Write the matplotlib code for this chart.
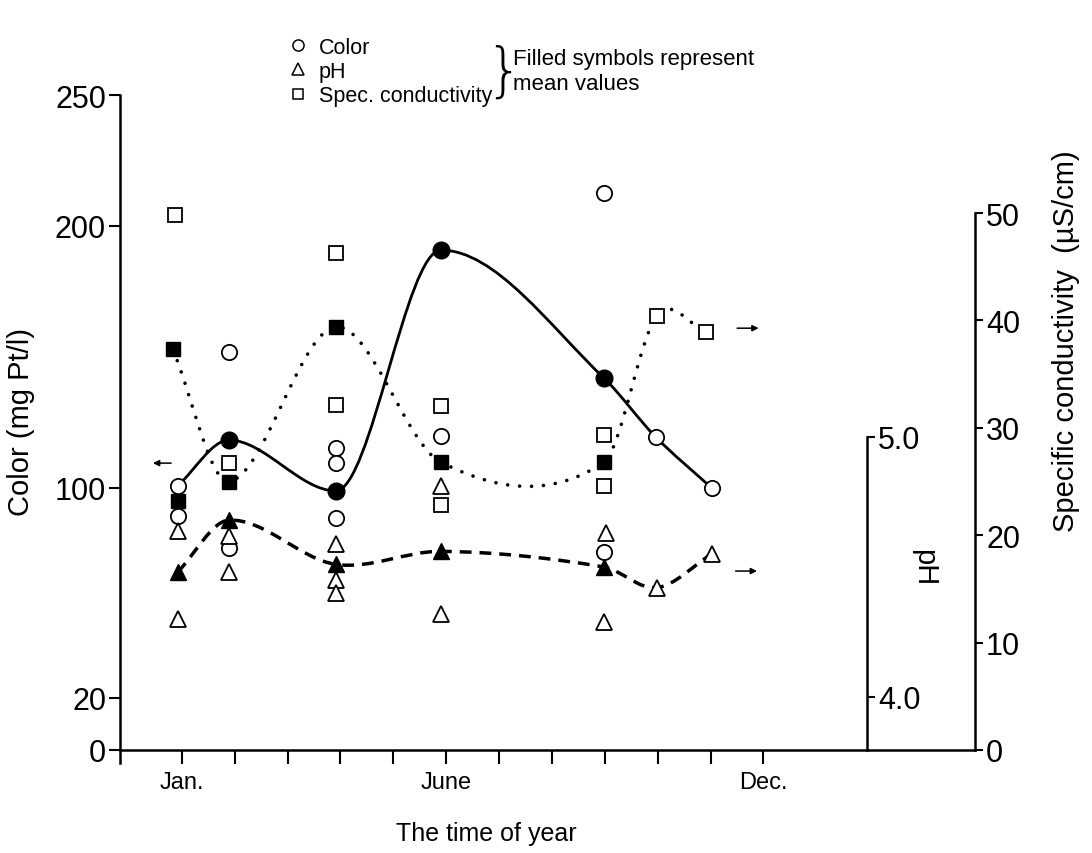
import matplotlib
matplotlib.use("Agg")
import matplotlib.pyplot as plt
from matplotlib.path import Path
from matplotlib.patches import PathPatch
from matplotlib.lines import Line2D

plt.rcParams.update({
    "font.family": ["Liberation Sans", "DejaVu Sans"],
    "font.size": 17,
    "axes.linewidth": 1.8,
})

# ---- data (month position on x, values in each axis' own units) ----
# Color (mg Pt/l), left axis
color_months = [0.92, 0.92, 1.89, 1.89, 3.91, 3.91, 3.91, 5.90, 8.98, 8.98, 9.96, 11.02]
color_values = [100.8, 89.3, 151.9, 77.1, 115.3, 109.5, 88.5, 119.8, 212.6, 75.6, 119.5, 100.0]
color_mean_months = [1.89, 3.91, 5.90, 8.98]
color_mean_values = [118.3, 98.9, 190.8, 142.0]
color_curve_months = [0.92, 1.89, 3.91, 5.90, 8.98, 9.96, 11.02]
color_curve_values = [100.8, 118.3, 98.9, 190.8, 142.0, 119.5, 100.0]

# Specific conductivity (uS/cm), right axis
cond_months = [0.87, 1.89, 3.91, 3.91, 5.90, 5.90, 8.98, 8.98, 9.98, 10.92]
cond_values = [49.8, 26.7, 46.3, 32.1, 32.0, 22.8, 29.3, 24.6, 40.4, 38.9]
cond_mean_months = [0.83, 0.92, 1.89, 3.91, 5.90, 8.98]
cond_mean_values = [37.3, 23.2, 25.0, 39.4, 26.8, 26.8]
cond_curve_months = [0.83, 1.89, 3.91, 5.90, 8.98, 9.98, 10.92]
cond_curve_values = [37.3, 25.0, 39.4, 26.8, 26.8, 40.4, 38.9]

# pH, inner right axis
ph_months = [0.92, 0.92, 1.89, 1.89, 3.91, 3.91, 3.91, 5.90, 5.90, 9.02, 8.98, 9.98, 11.02]
ph_values = [4.64, 4.30, 4.62, 4.48, 4.59, 4.45, 4.40, 4.81, 4.32, 4.63, 4.29, 4.42, 4.55]
ph_mean_months = [0.92, 1.89, 3.91, 5.90, 8.98]
ph_mean_values = [4.48, 4.68, 4.51, 4.56, 4.50]
ph_curve_months = [0.92, 1.89, 3.91, 5.90, 8.98, 9.98, 11.02]
ph_curve_values = [4.48, 4.68, 4.51, 4.56, 4.50, 4.42, 4.55]

month_ticks = list(range(1, 13))
month_labels = ["Jan.", "", "", "", "", "June", "", "", "", "", "", "Dec."]
color_ticks = [0, 20, 100, 200, 250]
cond_ticks = [0, 10, 20, 30, 40, 50]
ph_ticks = [4.0, 5.0]


def curve_slopes(xs, ys, monotone=False):
    n = len(xs)
    d = [(ys[i + 1] - ys[i]) / (xs[i + 1] - xs[i]) for i in range(n - 1)]
    m = [d[0]]
    for i in range(1, n - 1):
        if monotone:
            if d[i - 1] * d[i] <= 0:
                m.append(0.0)
            else:
                h0, h1 = xs[i] - xs[i - 1], xs[i + 1] - xs[i]
                w1, w2 = 2 * h1 + h0, h1 + 2 * h0
                m.append((w1 + w2) / (w1 / d[i - 1] + w2 / d[i]))
        else:
            m.append((ys[i + 1] - ys[i - 1]) / (xs[i + 1] - xs[i - 1]))
    m.append(d[-1])
    return m


def smooth_path(xs, ys, monotone=False):
    """Hand-drawn-like smooth curve through the mean points, as a Bezier path."""
    m = curve_slopes(xs, ys, monotone)
    verts = [(xs[0], ys[0])]
    codes = [Path.MOVETO]
    for i in range(len(xs) - 1):
        h = xs[i + 1] - xs[i]
        verts += [(xs[i] + h / 3, ys[i] + m[i] * h / 3),
                  (xs[i + 1] - h / 3, ys[i + 1] - m[i + 1] * h / 3),
                  (xs[i + 1], ys[i + 1])]
        codes += [Path.CURVE4] * 3
    return Path(verts, codes)


fig = plt.figure(figsize=(10.92, 8.54), dpi=100)
ax = fig.add_axes([120 / 1092, 1 - 751 / 854, 855 / 1092, 655 / 854])
ax.set_xlim(-0.17, 16.0)
ax.set_ylim(0, 250)
ax_c = ax.twinx()
ax_c.set_ylim(0, 61.0)
ax_p = ax.twinx()
ax_p.set_ylim(3.796, 3.796 + 655 / 260)

for a in (ax, ax_c, ax_p):
    a.patch.set_visible(False)
    a.spines["top"].set_visible(False)
ax.spines["right"].set_visible(False)
ax.spines["left"].set_bounds(-5, 250)
for a in (ax_c, ax_p):
    a.spines["left"].set_visible(False)
    a.spines["bottom"].set_visible(False)
ax_c.spines["right"].set_bounds(0, 50)
ax_p.spines["right"].set_position(("axes", (867 - 120) / 855))
ax_p.spines["right"].set_bounds(3.796, 5.0)

ax.set_xticks(month_ticks)
ax.set_xticklabels(month_labels)
ax.tick_params(axis="x", direction="out", length=10, width=1.5, pad=5, labelsize=17)
ax.set_yticks(color_ticks)
ax.tick_params(axis="y", direction="out", length=8, width=1.5, pad=2, labelsize=22)
ax_c.set_yticks(cond_ticks)
ax_c.tick_params(axis="y", direction="out", length=6, width=1.5, pad=2, labelsize=22)
ax_p.set_yticks(ph_ticks)
ax_p.set_yticklabels([f"{v:.1f}" for v in ph_ticks])
ax_p.tick_params(axis="y", direction="out", length=6, width=1.5, pad=2, labelsize=22)

ax.set_ylabel("Color (mg Pt/l)", fontsize=21)
ax.yaxis.set_label_coords(-0.099, 0.502)
ax_c.set_ylabel("Specific conductivity  (µS/cm)", fontsize=21, rotation=90)
ax_c.yaxis.set_label_coords(1.090, 0.625)
ax_p.set_ylabel("pH", fontsize=21, rotation=270, va="center")
ax_p.yaxis.set_label_coords(0.940, 0.28)
ax.set_xlabel("The time of year", fontsize=18)
ax.xaxis.set_label_coords(0.429, -0.108)

# mean curves
ax.add_patch(PathPatch(smooth_path(color_curve_months, color_curve_values, monotone=True),
                       fill=False, lw=2.0, color="black", zorder=2))
ax_c.add_patch(PathPatch(smooth_path(cond_curve_months, cond_curve_values),
                         fill=False, lw=2.6, color="black", linestyle=(0, (0.01, 3.3)),
                         capstyle="round", zorder=2))
ax_p.add_patch(PathPatch(smooth_path(ph_curve_months, ph_curve_values),
                         fill=False, lw=2.5, color="black", linestyle=(0, (3.4, 2.3)),
                         capstyle="butt", zorder=2))

# individual observations (open) and means (filled)
ax.plot(color_months, color_values, ls="none", marker="o", ms=11, mfc="white",
        mec="black", mew=1.3, zorder=3)
ax.plot(color_mean_months, color_mean_values, ls="none", marker="o", ms=12,
        mfc="black", mec="black", zorder=4)
ax_c.plot(cond_months, cond_values, ls="none", marker="s", ms=10, mfc="white",
          mec="black", mew=1.3, zorder=3)
ax_c.plot(cond_mean_months, cond_mean_values, ls="none", marker="s", ms=10,
          mfc="black", mec="black", zorder=4)
ax_p.plot(ph_months, ph_values, ls="none", marker="^", ms=11, mfc="white",
          mec="black", mew=1.3, zorder=3)
ax_p.plot(ph_mean_months, ph_mean_values, ls="none", marker="^", ms=11,
          mfc="black", mec="black", zorder=4)

# axis pointer arrows
arrow = dict(arrowstyle="-|>", lw=1.1, color="black", mutation_scale=9)
ax.annotate("", xy=(0.40, 109.5), xytext=(0.85, 109.5), arrowprops=arrow)
ax.annotate("", xy=(11.96, 161), xytext=(11.45, 161), arrowprops=arrow)
ax.annotate("", xy=(11.93, 68.3), xytext=(11.42, 68.3), arrowprops=arrow)

# legend
handles = [
    Line2D([], [], ls="none", marker="o", ms=8, mfc="white", mec="black", mew=1.1),
    Line2D([], [], ls="none", marker="^", ms=8, mfc="white", mec="black", mew=1.1),
    Line2D([], [], ls="none", marker="s", ms=7, mfc="white", mec="black", mew=1.1),
]
fig.legend(handles, ["Color", "pH", "Spec. conductivity"], loc="upper left",
           bbox_to_anchor=(276 / 1092, 1 - 27 / 854), frameon=False, fontsize=15.5,
           handlelength=1.0, handletextpad=0.5, labelspacing=0.15, borderpad=0)
fig.text(504 / 1092, 1 - 73 / 854, "}", fontsize=42, ha="center", va="center",
         fontweight="light", family="DejaVu Sans")
fig.text(513 / 1092, 1 - 59 / 854, "Filled symbols represent", fontsize=16,
         ha="left", va="center")
fig.text(513 / 1092, 1 - 85 / 854, "mean values", fontsize=16, ha="left", va="center")

fig.savefig("out.png", dpi=100)
